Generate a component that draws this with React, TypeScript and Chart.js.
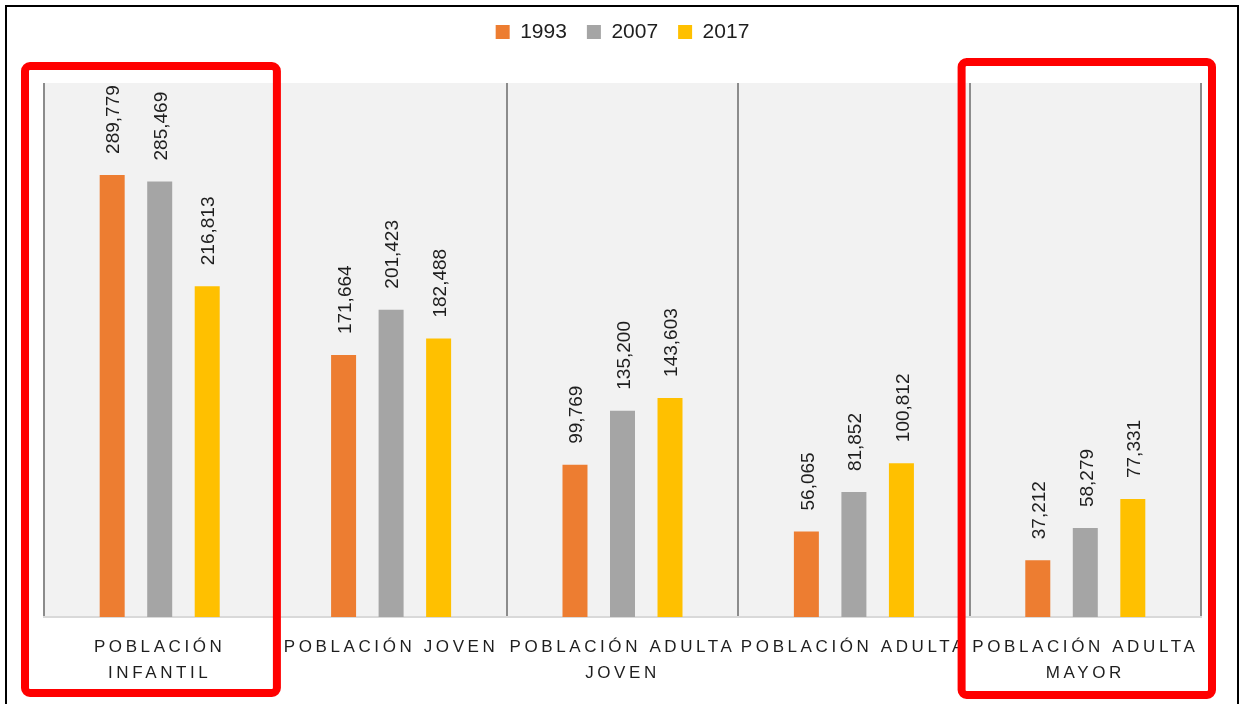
import { useEffect, useRef } from "react";
import { Chart, registerables } from "chart.js";

Chart.register(...registerables);

// ---- data ----
const categories: string[][] = [
  ["POBLACIÓN", "INFANTIL"],
  ["POBLACIÓN JOVEN"],
  ["POBLACIÓN ADULTA", "JOVEN"],
  ["POBLACIÓN ADULTA"],
  ["POBLACIÓN ADULTA", "MAYOR"],
];
const seriesNames = ["1993", "2007", "2017"];
const values1993 = [289779, 171664, 99769, 56065, 37212];
const values2007 = [285469, 201423, 135200, 81852, 58279];
const values2017 = [216813, 182488, 143603, 100812, 77331];
const seriesColors = ["#ED7D31", "#A5A5A5", "#FFC000"];
const yMax = 350000;
const highlightedCategories = [0, 4];

// ---- styles ----
const FONT = '"Liberation Sans", Arial, sans-serif';
const TEXT_COLOR = "#1e1e1e";
const highlightPads = [
  { left: 19, right: 1.5, top: 17, bottom: 76 },
  { left: 8, right: 11, top: 21, bottom: 78 },
];

const plotBackground = {
  id: "plotBackground",
  beforeDraw(chart: any) {
    const { ctx, chartArea } = chart;
    ctx.save();
    ctx.fillStyle = "#f2f2f2";
    ctx.fillRect(chartArea.left, chartArea.top, chartArea.right - chartArea.left, chartArea.bottom - chartArea.top);
    ctx.restore();
  },
};

const valueLabels = {
  id: "valueLabels",
  afterDatasetsDraw(chart: any) {
    const { ctx } = chart;
    chart.data.datasets.forEach((ds: any, di: number) => {
      const meta = chart.getDatasetMeta(di);
      meta.data.forEach((bar: any, i: number) => {
        const v = ds.data[i] as number;
        ctx.save();
        ctx.translate(bar.x + 2, bar.y - 21);
        ctx.rotate(-Math.PI / 2);
        ctx.font = `19px ${FONT}`;
        ctx.fillStyle = TEXT_COLOR;
        ctx.textAlign = "left";
        ctx.textBaseline = "middle";
        ctx.fillText(v.toLocaleString("en-US"), 0, 0);
        ctx.restore();
      });
    });
  },
};

const categoryLabels = {
  id: "categoryLabels",
  afterDraw(chart: any) {
    const { ctx, chartArea } = chart;
    const xs = chart.scales.x;
    ctx.save();
    ctx.font = `17px ${FONT}`;
    (ctx as any).letterSpacing = "3.6px";
    ctx.fillStyle = TEXT_COLOR;
    ctx.textAlign = "center";
    ctx.textBaseline = "alphabetic";
    categories.forEach((lines, i) => {
      const cx = xs.getPixelForValue(i);
      lines.forEach((line, j) => {
        ctx.fillText(line, cx, chartArea.bottom + 35 + j * 26);
      });
    });
    ctx.restore();
  },
};

const highlights = {
  id: "highlights",
  afterDraw(chart: any) {
    const { ctx, chartArea } = chart;
    const xs = chart.scales.x;
    const catW = (chartArea.right - chartArea.left) / categories.length;
    ctx.save();
    ctx.strokeStyle = "#ff0000";
    ctx.lineWidth = 8;
    highlightedCategories.forEach((idx, k) => {
      const p = highlightPads[k];
      const cx = xs.getPixelForValue(idx);
      const l = cx - catW / 2 - p.left;
      const r = cx + catW / 2 + p.right;
      const t = chartArea.top - p.top;
      const b = chartArea.bottom + p.bottom;
      ctx.beginPath();
      (ctx as any).roundRect(l, t, r - l, b - t, 5);
      ctx.stroke();
    });
    // outer frame
    ctx.strokeStyle = "#000000";
    ctx.lineWidth = 2;
    ctx.strokeRect(6, 6, 1232, 720);
    ctx.restore();
  },
};

export default function App() {
  const canvasRef = useRef<HTMLCanvasElement | null>(null);

  useEffect(() => {
    if (!canvasRef.current) return;
    const seriesValues = [values1993, values2007, values2017];
    const chart = new Chart(canvasRef.current, {
      type: "bar",
      data: {
        labels: categories.map((c) => c.join(" ")),
        datasets: seriesNames.map((name, i) => ({
          label: name,
          data: seriesValues[i],
          backgroundColor: seriesColors[i],
          borderWidth: 0,
          categoryPercentage: 0.616,
          barPercentage: 0.526,
        })),
      },
      options: {
        animation: false,
        responsive: false,
        maintainAspectRatio: false,
        layout: { padding: { top: 1.5, left: 44, right: 39, bottom: 0 } },
        plugins: {
          legend: {
            position: "top",
            labels: {
              boxWidth: 14,
              boxHeight: 14,
              padding: 20,
              color: TEXT_COLOR,
              font: { family: FONT, size: 21 },
            },
          },
          tooltip: { enabled: false },
        },
        scales: {
          x: {
            grid: { display: true, offset: true, color: "#8c8c8c", lineWidth: 2, drawTicks: false },
            border: { display: true, color: "#d9d9d9", width: 2 },
            ticks: { display: false },
            afterFit: (s: any) => {
              s.height = 87;
            },
          },
          xTop: {
            type: "category",
            position: "top",
            grid: { display: false },
            border: { display: false },
            ticks: { display: false },
            afterFit: (s: any) => {
              s.height = 30.5;
            },
          },
          y: { display: false, min: 0, max: yMax },
        },
      } as any,
      plugins: [plotBackground, valueLabels, categoryLabels, highlights],
    });
    return () => chart.destroy();
  }, []);

  return (
    <div style={{ position: "fixed", left: 0, top: 0, width: 1240, height: 704, background: "#ffffff" }}>
      <canvas ref={canvasRef} width={1240} height={704} style={{ display: "block", width: 1240, height: 704 }} />
    </div>
  );
}
